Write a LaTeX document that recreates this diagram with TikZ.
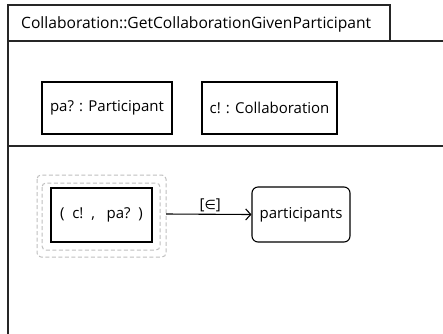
\documentclass[tikz,border=0pt]{standalone}
\usepackage{fontspec}
\setmainfont{Open Sans}
\newfontfamily\symbolfont{DejaVu Sans}
\usetikzlibrary{arrows.meta}
\begin{document}
\begin{tikzpicture}[x=1pt,y=-1pt,
  frameline/.style={line width=1.3pt,draw=black!85},
  txt/.style={font=\fontsize{15}{18}\selectfont},
  objbox/.style={txt,draw=black,line width=1.3pt,minimum width=#1,minimum height=52pt,inner sep=0pt},
  tuplebox/.style={txt,draw=black,line width=1.8pt,minimum width=101pt,minimum height=54pt,inner sep=0pt},
  halo/.style={draw=black!25,dashed,dash pattern=on 4pt off 2.5pt,line width=1pt,rounded corners=4pt},
  stateboxr/.style={txt,draw=black,line width=1.1pt,rounded corners=6pt,minimum width=98pt,minimum height=55pt,inner sep=0pt},
  flow/.style={line width=1.1pt,-{Straight Barb[length=5pt,width=11pt,line width=1.1pt]}}]
\useasboundingbox (0,0) rectangle (443,333);
% frame with name tab
\draw[frameline] (8,334) -- (8,5) -- (390,5) -- (390,41);
\draw[frameline] (8,41) -- (444,41);
\draw[frameline] (8,146) -- (444,146);
\node[anchor=west,font=\fontsize{15.6}{18}\selectfont,inner sep=0pt] (title) at (21,24) {Collaboration::GetCollaborationGivenParticipant};
% typed objects
\node[objbox=130pt] (pa) at (107,108) {pa? : Participant};
\node[objbox=135pt] (c) at (269.5,108) {c! : Collaboration};
% tuple with selection halo
\node[tuplebox] (tup) at (101.5,215) {(\ \ c!\ \ ,\ \ \ pa?\ \ )};
\draw[halo] (42,183) rectangle (160,250);
\draw[halo] (37,175) rectangle (166,257);
\coordinate (tupout) at (166,214);
% target
\node[stateboxr] (part) at (301,214.5) {participants};
\draw[flow] (tupout) -- node[above,inner sep=2pt,txt,xshift=1.5pt] (lbl) {[{\symbolfont\fontsize{13}{15}\selectfont ∈}]} (part.west);
\end{tikzpicture}
\end{document}
